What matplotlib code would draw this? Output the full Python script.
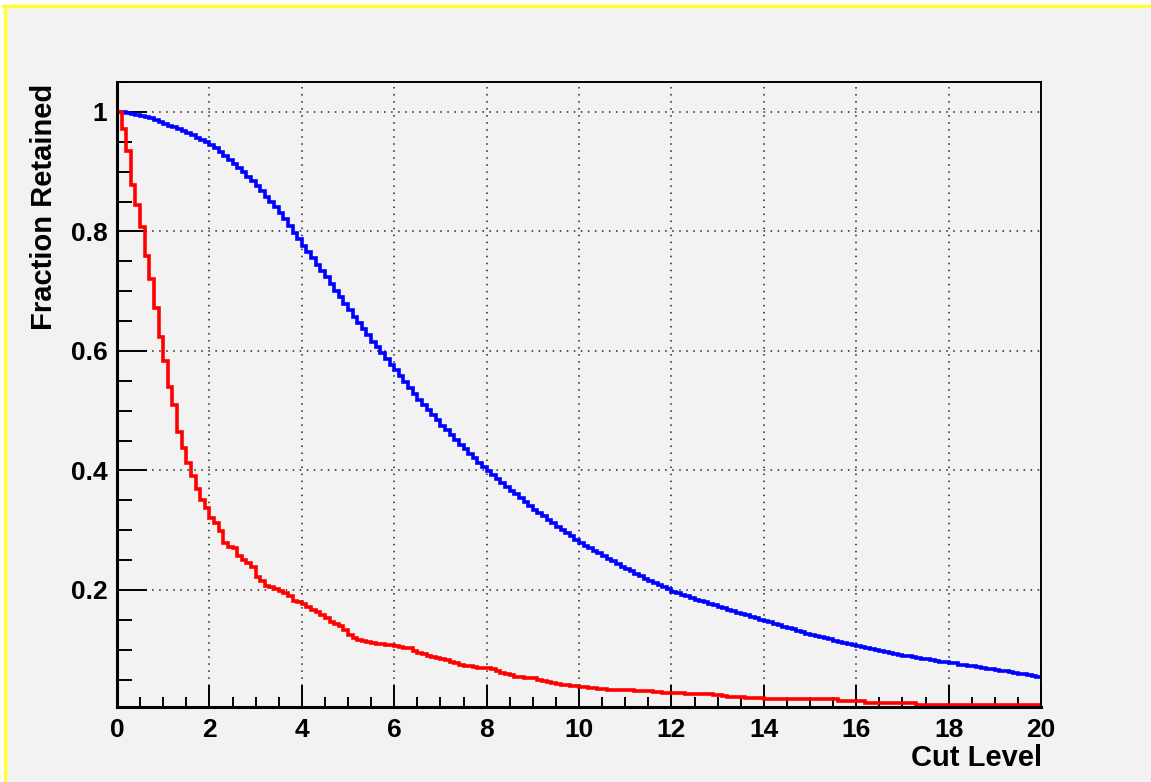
import numpy as np
import matplotlib
matplotlib.use("Agg")
import matplotlib.pyplot as plt
from matplotlib.patches import Rectangle
from matplotlib.lines import Line2D
from matplotlib.ticker import MultipleLocator, FixedLocator, FuncFormatter

plt.rcParams["font.family"] = ["Liberation Sans", "DejaVu Sans"]
plt.rcParams["font.weight"] = "bold"

# histogram: 200 bins of 0.1 from 0 to 20
N_BINS = 200
X_MIN, X_MAX = 0.0, 20.0

# blue curve (fraction retained per bin)
blue = [
    1.000, 0.999, 0.998, 0.997, 0.995, 0.993, 0.991, 0.989, 0.986, 0.983,
    0.980, 0.977, 0.974, 0.971, 0.968, 0.965, 0.961, 0.957, 0.953, 0.949,
    0.945, 0.939, 0.933, 0.926, 0.920, 0.913, 0.906, 0.899, 0.891, 0.884,
    0.876, 0.867, 0.858, 0.849, 0.840, 0.830, 0.820, 0.809, 0.798, 0.787,
    0.776, 0.765, 0.755, 0.744, 0.734, 0.723, 0.712, 0.701, 0.690, 0.679,
    0.668, 0.657, 0.647, 0.636, 0.626, 0.615, 0.606, 0.596, 0.587, 0.577,
    0.568, 0.558, 0.548, 0.538, 0.528, 0.518, 0.509, 0.501, 0.492, 0.484,
    0.475, 0.467, 0.459, 0.451, 0.443, 0.435, 0.428, 0.421, 0.413, 0.406,
    0.399, 0.392, 0.386, 0.379, 0.373, 0.366, 0.360, 0.353, 0.347, 0.340,
    0.334, 0.328, 0.323, 0.317, 0.312, 0.306, 0.301, 0.295, 0.290, 0.284,
    0.279, 0.274, 0.270, 0.265, 0.261, 0.256, 0.252, 0.248, 0.243, 0.239,
    0.235, 0.231, 0.227, 0.223, 0.219, 0.215, 0.211, 0.208, 0.204, 0.201,
    0.197, 0.194, 0.191, 0.189, 0.186, 0.183, 0.181, 0.179, 0.176, 0.174,
    0.172, 0.170, 0.167, 0.165, 0.162, 0.160, 0.158, 0.155, 0.153, 0.150,
    0.148, 0.146, 0.143, 0.141, 0.138, 0.136, 0.134, 0.132, 0.129, 0.127,
    0.125, 0.123, 0.121, 0.119, 0.117, 0.115, 0.113, 0.111, 0.110, 0.108,
    0.106, 0.104, 0.102, 0.101, 0.099, 0.097, 0.096, 0.094, 0.093, 0.091,
    0.090, 0.089, 0.087, 0.086, 0.085, 0.084, 0.083, 0.081, 0.080, 0.079,
    0.078, 0.077, 0.075, 0.074, 0.073, 0.072, 0.071, 0.069, 0.068, 0.067,
    0.066, 0.065, 0.064, 0.062, 0.061, 0.060, 0.059, 0.058, 0.056, 0.055,
]

# red curve
red = [
    1.000, 0.971, 0.934, 0.878, 0.844, 0.807, 0.758, 0.720, 0.671, 0.623,
    0.583, 0.540, 0.510, 0.465, 0.437, 0.413, 0.390, 0.369, 0.351, 0.337,
    0.320, 0.312, 0.298, 0.278, 0.272, 0.270, 0.256, 0.250, 0.245, 0.239,
    0.222, 0.215, 0.207, 0.204, 0.201, 0.198, 0.195, 0.190, 0.182, 0.179,
    0.176, 0.171, 0.166, 0.163, 0.158, 0.153, 0.147, 0.143, 0.139, 0.133,
    0.124, 0.120, 0.116, 0.114, 0.112, 0.111, 0.110, 0.109, 0.108, 0.107,
    0.106, 0.104, 0.103, 0.102, 0.098, 0.094, 0.092, 0.090, 0.088, 0.086,
    0.084, 0.082, 0.080, 0.077, 0.075, 0.073, 0.072, 0.071, 0.070, 0.069,
    0.069, 0.067, 0.064, 0.061, 0.059, 0.057, 0.055, 0.054, 0.053, 0.053,
    0.052, 0.050, 0.048, 0.046, 0.044, 0.043, 0.041, 0.040, 0.039, 0.039,
    0.038, 0.037, 0.036, 0.035, 0.034, 0.034, 0.033, 0.033, 0.033, 0.033,
    0.032, 0.032, 0.031, 0.031, 0.030, 0.030, 0.029, 0.029, 0.028, 0.028,
    0.028, 0.027, 0.027, 0.026, 0.026, 0.026, 0.025, 0.025, 0.025, 0.024,
    0.024, 0.023, 0.021, 0.021, 0.021, 0.021, 0.019, 0.019, 0.019, 0.019,
    0.017, 0.017, 0.017, 0.017, 0.017, 0.017, 0.017, 0.017, 0.017, 0.017,
    0.017, 0.017, 0.017, 0.017, 0.017, 0.017, 0.014, 0.014, 0.014, 0.014,
    0.014, 0.014, 0.011, 0.011, 0.011, 0.011, 0.011, 0.011, 0.011, 0.011,
    0.011, 0.011, 0.011, 0.000, 0.000, 0.000, 0.000, 0.000, 0.000, 0.000,
    0.000, 0.000, 0.000, 0.000, 0.000, 0.000, 0.000, 0.000, 0.000, 0.000,
    0.000, 0.000, 0.000, 0.000, 0.000, 0.000, 0.000, 0.000, 0.000, 0.000,
]

y_ticks = [0.2, 0.4, 0.6, 0.8, 1.0]
Y_MIN, Y_MAX = 0.004, 1.05

BG = "#f2f2f2"

fig = plt.figure(figsize=(11.51, 7.82), dpi=100, facecolor="white")
W, H = 1151, 782

# canvas background + yellow highlight border (top and left)
fig.patches.append(Rectangle((5 / W, 0), 1, 1 - 6 / H, transform=fig.transFigure,
                             fc=BG, ec="none", zorder=-5))
fig.lines.append(Line2D([3 / W, 1], [1 - 6 / H, 1 - 6 / H], transform=fig.transFigure,
                        color="#ffff33", lw=2.4, zorder=-4))
fig.lines.append(Line2D([5 / W, 5 / W], [0, 1 - 6 / H], transform=fig.transFigure,
                        color="#ffff33", lw=2.4, zorder=-4))

ax = fig.add_axes([117 / W, 75 / H, 924 / W, 625 / H])
ax.set_facecolor(BG)

edges = np.linspace(X_MIN, X_MAX, N_BINS + 1)
ax.stairs(blue, edges, baseline=None, color="#0000ff", lw=2.6, zorder=3)
# values below the frame minimum are drawn at the frame floor, like ROOT does
red_drawn = np.maximum(np.array(red), Y_MIN + 0.003)
ax.stairs(red_drawn, edges, baseline=None, color="#ff0000", lw=2.6, zorder=4)

ax.set_xlim(X_MIN, X_MAX)
ax.set_ylim(Y_MIN, Y_MAX)

ax.xaxis.set_major_locator(MultipleLocator(2))
ax.xaxis.set_minor_locator(MultipleLocator(0.5))
ax.yaxis.set_major_locator(FixedLocator(y_ticks))
ax.yaxis.set_minor_locator(MultipleLocator(0.05))
ax.xaxis.set_major_formatter(FuncFormatter(lambda v, p: f"{v:g}"))
ax.yaxis.set_major_formatter(FuncFormatter(lambda v, p: f"{v:g}"))

ax.tick_params(axis="both", which="both", direction="in", top=False, right=False,
               width=1.4, color="black")
ax.tick_params(axis="y", which="major", length=21.5, pad=7, labelsize=19)
ax.tick_params(axis="y", which="minor", length=10.8)
ax.tick_params(axis="x", which="major", length=15.8, pad=8, labelsize=19)
ax.tick_params(axis="x", which="minor", length=7.5)
for lbl in ax.get_xticklabels() + ax.get_yticklabels():
    lbl.set_fontweight("bold")

ax.grid(True, which="major", linestyle=(0, (1, 3.6)), color="#222222", lw=1.1, zorder=1)

for side in ("left", "bottom"):
    ax.spines[side].set_linewidth(2.2)
for side in ("top", "right"):
    ax.spines[side].set_linewidth(1.4)
for sp in ax.spines.values():
    sp.set_zorder(5)

fig.text(1042 / W, 1 - 766 / H, "Cut Level", ha="right", va="baseline",
         fontsize=21, fontweight="bold")
fig.text(44 / W, 1 - 84 / H, "Fraction Retained", ha="center", va="top",
         rotation=90, fontsize=21, fontweight="bold")

fig.savefig("out.png", dpi=100, facecolor="white")
